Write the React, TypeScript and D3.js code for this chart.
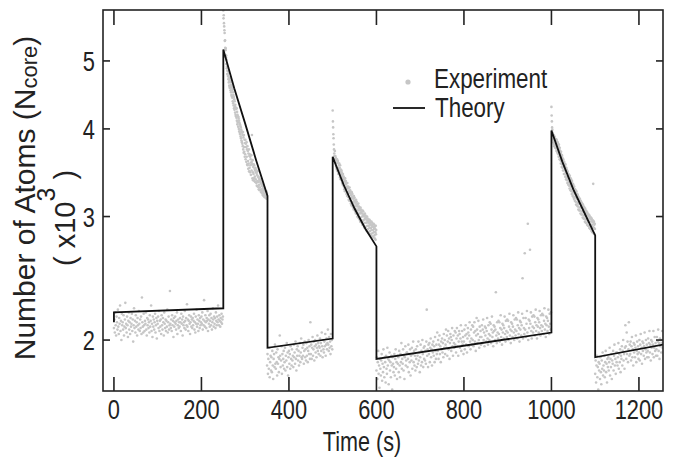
import React from 'react';
import * as d3 from 'd3';

const xTicks = [0, 200, 400, 600, 800, 1000, 1200];
const yTicks = [2, 3, 4, 5];

const theoryTime = [0, 0, 250, 250, 275, 300, 325, 351, 351, 500, 500, 525, 550, 575, 600, 600, 1000, 1000, 1025, 1050, 1075, 1100, 1100, 1255];
const theoryAtoms = [2.12, 2.19, 2.22, 5.19, 4.57, 4.07, 3.61, 3.21, 1.95, 2.01, 3.65, 3.33, 3.08, 2.88, 2.72, 1.88, 2.05, 3.98, 3.59, 3.28, 3.04, 2.82, 1.89, 1.97];

// Experiment: values in units of 10 atoms (213 -> 2.13 x10^3), sampled from segment start with a fixed step (s)
const expSegStart = [0, 250, 350, 500, 600, 1000, 1100];
const expSegStep = [1, 0.5, 1, 0.5, 1, 0.5, 1];

const expSeg1 = [
  208,214,205,219,210,203,216,212,207,221, 209,204,215,211,224,206,213,200,218,210,
  212,207,217,203,209,214,226,208,211,205, 216,210,202,213,219,207,212,204,215,209,
  211,218,206,214,199,210,222,208,213,205, 217,209,212,203,215,210,207,220,211,206,
  214,208,216,204,230,212,209,205,218,210, 206,213,211,219,207,203,215,210,214,208,
  212,205,217,209,213,224,206,211,202,216, 209,214,207,212,218,205,210,215,201,213,
  211,216,208,220,206,213,209,214,204,217, 210,207,215,212,203,219,211,208,214,206,
  213,209,221,205,212,216,207,210,235,211, 208,214,206,217,210,213,202,215,209,212,
  216,211,207,213,219,204,210,214,208,212, 209,215,212,206,218,211,214,203,216,210,
  212,208,220,213,207,215,210,225,209,214, 206,213,217,211,204,212,216,209,214,208,
  215,210,213,218,207,212,205,216,211,221, 209,214,211,206,217,213,208,215,210,212,
  216,211,219,207,214,210,228,213,209,217, 212,208,215,213,220,206,214,211,217,209,
  213,218,210,215,207,212,222,214,209,216, 211,215,208,219,213,210,216,212,224,214,
  210,217,213,209,215,212,218,211,214,216,
];

const expSeg2 = [
  590,575,581,566,560,553,548,534,535,522, 518,521,506,509,495,502,488,491,479,484,
  490,476,484,471,480,466,474,461,469,458, 472,458,468,454,466,451,462,447,460,445,
  458,443,455,438,451,435,447,432,444,428, 441,426,438,430,422,433,419,429,417,427,
  415,428,411,423,406,419,409,417,403,416, 414,400,411,397,408,395,406,393,404,390,
  402,388,399,385,397,383,395,381,392,378, 396,374,389,370,392,377,371,386,365,382,
  368,386,362,381,377,359,383,365,374,356, 378,355,372,360,351,369,357,374,348,366,
  352,368,347,365,355,362,344,358,367,349, 359,392,356,340,361,347,338,353,345,356,
  340,355,337,351,342,349,336,352,339,347, 350,335,346,332,344,337,348,331,342,336,
  331,342,328,340,333,338,327,339,330,336, 337,327,335,325,334,328,332,324,333,326,
  322,331,324,329,321,330,323,327,320,328, 327,321,326,319,325,322,320,326,318,324,
];

const expSeg3 = [
  184,191,179,188,182,195,177,186,190,181, 189,180,193,184,176,188,191,183,197,185,
  182,192,186,178,194,185,189,180,188,203, 190,183,187,196,179,191,184,188,193,182,
  186,195,181,190,187,198,183,192,178,189, 193,185,191,182,196,188,184,194,187,190,
  183,197,189,192,185,199,188,181,194,190, 196,187,193,184,190,198,186,192,201,189,
  188,195,190,197,185,193,199,189,194,187, 198,190,195,186,193,200,191,196,188,212,
  191,197,188,195,202,190,194,199,187,196, 200,192,197,189,195,203,193,198,191,196,
  195,201,190,198,193,205,196,189,200,194, 192,199,196,204,190,197,201,194,198,207,
  197,193,202,195,199,191,204,196,200,194,
];

const expSeg4 = [
  425,410,402,393,388,380,374,369,366,362, 372,361,366,357,364,354,361,352,358,350,
  362,351,358,348,360,352,345,357,349,355, 357,345,352,341,355,347,339,350,344,348,
  349,338,346,335,343,340,333,345,336,341, 342,331,339,328,337,333,326,340,329,335,
  337,326,334,323,331,329,321,335,325,330, 331,320,329,317,326,324,316,330,319,325,
  327,316,324,313,322,319,311,325,315,320, 323,311,320,309,318,314,307,321,311,316,
  319,307,316,305,314,310,303,317,307,312, 315,303,312,300,310,306,299,313,303,308,
  310,299,308,297,306,303,295,309,299,304, 307,296,305,294,303,300,292,306,296,301,
  305,293,302,290,300,297,289,303,294,298, 301,290,299,287,297,294,286,300,291,295,
  298,288,296,285,294,291,284,297,289,293, 296,286,294,283,292,289,282,295,287,291,
  294,284,292,281,290,287,280,293,285,289, 292,282,290,279,288,285,278,291,283,287,
];

const expSeg5 = [
  181,189,176,186,193,179,184,171,188,182, 178,187,191,175,185,180,194,183,177,189,
  186,174,190,182,179,195,184,188,173,187, 192,181,186,177,190,184,170,189,185,180,
  183,191,178,188,194,182,186,176,190,185, 189,180,193,184,177,191,186,198,182,188,
  185,194,181,190,176,189,196,184,187,192, 192,183,188,197,180,191,186,194,178,190,
  187,195,182,191,199,186,193,184,190,181, 194,188,183,196,190,185,199,187,192,180,
  189,197,184,193,186,200,191,183,195,188, 196,187,193,185,199,221,190,194,183,197,
  191,198,186,195,201,189,194,184,197,192, 199,190,196,186,202,193,188,197,191,205,
  193,200,188,197,203,191,196,186,199,194, 201,192,198,189,204,195,200,191,197,207,
  195,203,190,199,206,194,201,188,198,204, 202,193,200,208,196,190,203,198,195,206,
  197,205,192,201,208,196,203,190,199,206, 204,195,201,210,193,199,206,197,202,191,
  199,207,194,203,210,197,204,192,201,208, 205,196,203,212,199,194,207,201,197,210,
  200,209,196,205,212,199,206,193,203,215, 207,198,204,213,200,195,209,202,206,197,
  202,210,198,207,214,200,205,196,209,203, 208,199,206,215,201,197,210,204,200,212,
  203,211,198,207,216,202,205,196,210,206, 209,200,207,234,203,198,212,205,201,213,
  204,212,199,208,217,202,207,197,211,205, 210,201,208,216,204,199,213,206,202,214,
  205,213,200,209,218,203,207,198,212,206, 211,202,209,217,205,200,214,207,203,215,
  206,214,201,210,219,204,208,199,213,207, 212,203,210,218,245,201,215,208,204,266,
  207,215,202,211,220,205,293,200,214,208, 213,269,211,219,206,201,216,209,205,217,
  208,216,203,212,221,206,210,201,215,209, 214,205,212,220,208,203,217,210,206,218,
  209,217,204,213,222,207,211,202,216,210, 215,206,213,221,209,204,218,211,207,219,
];

const expSeg6 = [
  430,418,410,402,399,395,391,388,386,383, 392,381,389,378,390,380,386,376,387,379,
  387,375,384,372,386,376,381,370,383,373, 381,368,378,365,380,369,374,362,376,366,
  372,361,369,357,371,360,365,353,367,356, 364,352,361,349,362,353,357,345,359,349,
  357,345,354,342,356,346,350,339,352,342, 350,338,347,335,348,340,343,333,345,336,
  344,332,341,329,343,334,338,327,340,331, 339,326,336,323,337,328,332,321,334,325,
  333,320,330,318,331,323,327,316,328,320, 327,315,325,312,326,318,321,311,323,314,
  322,310,319,307,320,313,316,306,318,309, 318,306,315,303,316,309,312,302,314,305,
  313,302,311,299,312,305,308,298,310,301, 309,298,307,295,308,301,304,294,306,297,
  305,294,303,292,304,298,301,291,302,295, 302,291,300,289,301,295,298,288,299,292,
  299,288,297,286,298,292,295,285,296,290, 296,334,294,284,295,289,292,283,293,288,
];

const expSeg7 = [
  179,187,174,184,190,177,183,170,186,181, 185,176,189,180,173,187,182,192,178,184,
  181,190,177,186,193,180,185,174,188,183, 189,181,186,195,178,188,183,191,176,187,
  185,193,181,190,197,184,188,179,192,186, 192,184,189,198,182,191,186,194,180,190,
  188,196,184,193,200,187,191,182,195,210, 196,188,205,191,199,186,194,212,190,197,
  191,199,187,196,202,189,194,184,198,192, 197,189,195,203,186,193,199,191,196,188,
  192,200,187,197,204,191,195,185,199,193, 198,190,196,205,188,194,200,192,197,189,
  193,201,189,198,206,192,197,187,200,195, 199,191,197,206,189,195,202,193,198,190,
  194,202,190,199,207,193,198,188,201,196, 200,192,198,206,195,
];

const expSegs = [expSeg1, expSeg2, expSeg3, expSeg4, expSeg5, expSeg6, expSeg7];

const W = 689;
const H = 458;
const left = 103, right = 663, top = 10, bottom = 391;
const FONT = '"Liberation Sans", Arial, Helvetica, sans-serif';
const SQ = 0.78;

export default function App() {
  const x = d3.scaleLinear().domain([-25, 1255]).range([left, right]);
  const y = d3.scaleLog().domain([1.692, 5.91]).range([bottom, top]);

  const points: { t: number; v: number }[] = [];
  expSegs.forEach((seg, s) => {
    seg.forEach((val, i) => {
      points.push({ t: expSegStart[s] + i * expSegStep[s], v: val / 100 });
    });
  });

  const theory = theoryTime.map((t, i) => [t, theoryAtoms[i]] as [number, number]);
  const line = d3
    .line<[number, number]>()
    .x((d) => x(d[0]))
    .y((d) => y(d[1]));

  return (
    <svg
      width={W}
      height={H}
      style={{ position: 'absolute', left: 0, top: 0, background: '#fff' }}
      fontFamily={FONT}
    >
      <defs>
        <clipPath id="plotclip">
          <rect x={left} y={top} width={right - left} height={bottom - top} />
        </clipPath>
      </defs>
      <rect x={0} y={0} width={W} height={H} fill="#fff" />

      <g clipPath="url(#plotclip)">
        {points.map((p, i) => (
          <circle key={i} cx={x(p.t)} cy={y(p.v)} r={1.3} fill="#c6c6c6" />
        ))}
        <path d={line(theory) || ''} fill="none" stroke="#111" strokeWidth={1.8} strokeLinejoin="miter" />
      </g>

      {/* frame */}
      <rect x={left} y={top} width={right - left} height={bottom - top} fill="none" stroke="#222" strokeWidth={1.6} />

      {/* x ticks */}
      {xTicks.map((t) => (
        <g key={'xt' + t}>
          <line x1={x(t)} x2={x(t)} y1={bottom} y2={bottom - 14} stroke="#222" strokeWidth={1.6} />
          <line x1={x(t)} x2={x(t)} y1={top} y2={top + 15} stroke="#222" strokeWidth={1.6} />
          <g transform={`translate(${x(t)},${419}) scale(${SQ},1)`}>
            <text textAnchor="middle" fontSize={28} fill="#222">
              {t}
            </text>
          </g>
        </g>
      ))}

      {/* y ticks */}
      {yTicks.map((v) => (
        <g key={'yt' + v}>
          <line x1={left} x2={left + 7} y1={y(v)} y2={y(v)} stroke="#222" strokeWidth={1.6} />
          <line x1={right} x2={right - 7} y1={y(v)} y2={y(v)} stroke="#222" strokeWidth={1.6} />
          <g transform={`translate(${95},${y(v) + 10}) scale(${SQ},1)`}>
            <text textAnchor="end" fontSize={28} fill="#222">
              {v}
            </text>
          </g>
        </g>
      ))}

      {/* x title */}
      <g transform={`translate(${362},${451}) scale(0.8,1)`}>
        <text textAnchor="middle" fontSize={27} fill="#222">
          Time (s)
        </text>
      </g>

      {/* y title */}
      <text transform="translate(35,198) rotate(-90)" textAnchor="middle" fontSize={30} fill="#222">
        <tspan>Number of Atoms (N</tspan>
        <tspan fontSize={22} dy={2}>core</tspan>
        <tspan dy={-2}>)</tspan>
      </text>
      <text transform="translate(75,218) rotate(-90)" textAnchor="middle" fontSize={29} fill="#222">
        <tspan>( x10</tspan>
        <tspan fontSize={25} dy={-20}>3</tspan>
        <tspan dy={20}> )</tspan>
      </text>

      {/* legend */}
      <circle cx={408} cy={82} r={2.6} fill="#c6c6c6" />
      <g transform={`translate(${434},${88}) scale(0.8,1)`}>
        <text fontSize={28} fill="#222">Experiment</text>
      </g>
      <line x1={393} x2={425} y1={108} y2={108} stroke="#111" strokeWidth={1.8} />
      <g transform={`translate(${435},${117}) scale(0.8,1)`}>
        <text fontSize={28} fill="#222">Theory</text>
      </g>
    </svg>
  );
}
